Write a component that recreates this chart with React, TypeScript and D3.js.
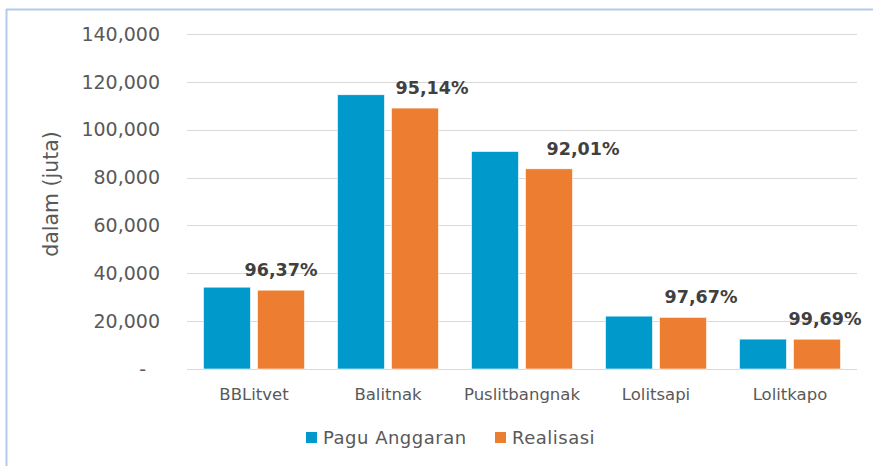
import * as React from "react";
import * as d3 from "d3";

const categories = ["BBLitvet", "Balitnak", "Puslitbangnak", "Lolitsapi", "Lolitkapo"];
const pagu = [34200, 114600, 90900, 22100, 12500];
const realisasi = [32950, 109050, 83650, 21600, 12460];
const percentLabels = ["96,37%", "95,14%", "92,01%", "97,67%", "99,69%"];
const yTicks = [0, 20000, 40000, 60000, 80000, 100000, 120000, 140000];
const seriesNames = ["Pagu Anggaran", "Realisasi"];
const colors = ["#0099CC", "#ED7D31"];

// label nudges, as placed by hand in the original
const labelDx = [0, 17, 34, 18, 8];

const W = 873;
const H = 466;
const margin = { left: 187, right: 16, top: 34, bottom: 97 };
const FONT = "'DejaVu Sans', Verdana, sans-serif";

export default function App() {
  const x = d3
    .scaleBand()
    .domain(categories)
    .range([margin.left, W - margin.right]);
  const y = d3
    .scaleLinear()
    .domain([0, 140000])
    .range([H - margin.bottom, margin.top]);

  const barW = 47;
  const gap = 7;
  const fmt = d3.format(",");

  return (
    <svg
      width={W}
      height={H}
      style={{ position: "absolute", left: 0, top: 0, background: "#fff" }}
      fontFamily={FONT}
    >
      {/* chart frame */}
      <line x1={6} x2={W} y1={9.5} y2={9.5} stroke="#b4cbe8" strokeWidth={2} />
      <line x1={6.5} x2={6.5} y1={9} y2={H} stroke="#b4cbe8" strokeWidth={2} />

      {yTicks.map(t => (
        <g key={t}>
          <line
            x1={margin.left}
            x2={W - margin.right}
            y1={Math.round(y(t)) + 0.5}
            y2={Math.round(y(t)) + 0.5}
            stroke="#d9d9d9"
          />
          <text
            x={t === 0 ? 146 : 160}
            y={y(t)}
            dy="0.35em"
            textAnchor="end"
            fontSize={19}
            fill="#595959"
          >
            {t === 0 ? "-" : fmt(t)}
          </text>
        </g>
      ))}

      <text
        transform={`translate(58,194) rotate(-90)`}
        textAnchor="middle"
        fontSize={20.5}
        fill="#595959"
      >
        dalam (juta)
      </text>

      {categories.map((c, i) => {
        const cx = (x(c) as number) + x.bandwidth() / 2;
        const bx = cx - gap / 2 - barW;
        const ox = cx + gap / 2;
        return (
          <g key={c}>
            <rect
              x={bx}
              y={y(pagu[i])}
              width={barW}
              height={y(0) - y(pagu[i])}
              fill={colors[0]}
              stroke="#fff"
              strokeWidth={0.6}
            />
            <rect
              x={ox}
              y={y(realisasi[i])}
              width={barW}
              height={y(0) - y(realisasi[i])}
              fill={colors[1]}
              stroke="#fff"
              strokeWidth={0.6}
            />
            <text
              x={ox + barW / 2 + labelDx[i]}
              y={y(realisasi[i]) - 14}
              textAnchor="middle"
              fontSize={17.5}
              fontWeight="bold"
              fill="#404040"
            >
              {percentLabels[i]}
            </text>
            <text
              x={cx}
              y={400}
              textAnchor="middle"
              fontSize={16.5}
              fill="#595959"
            >
              {c}
            </text>
          </g>
        );
      })}

      {seriesNames.map((s, i) => {
        const lx = i === 0 ? 306 : 495;
        return (
          <g key={s}>
            <rect x={lx} y={432} width={11} height={11} fill={colors[i]} />
            <text
              x={lx + 17}
              y={444}
              fontSize={18}
              letterSpacing={0.5}
              fill="#595959"
            >
              {s}
            </text>
          </g>
        );
      })}
    </svg>
  );
}
